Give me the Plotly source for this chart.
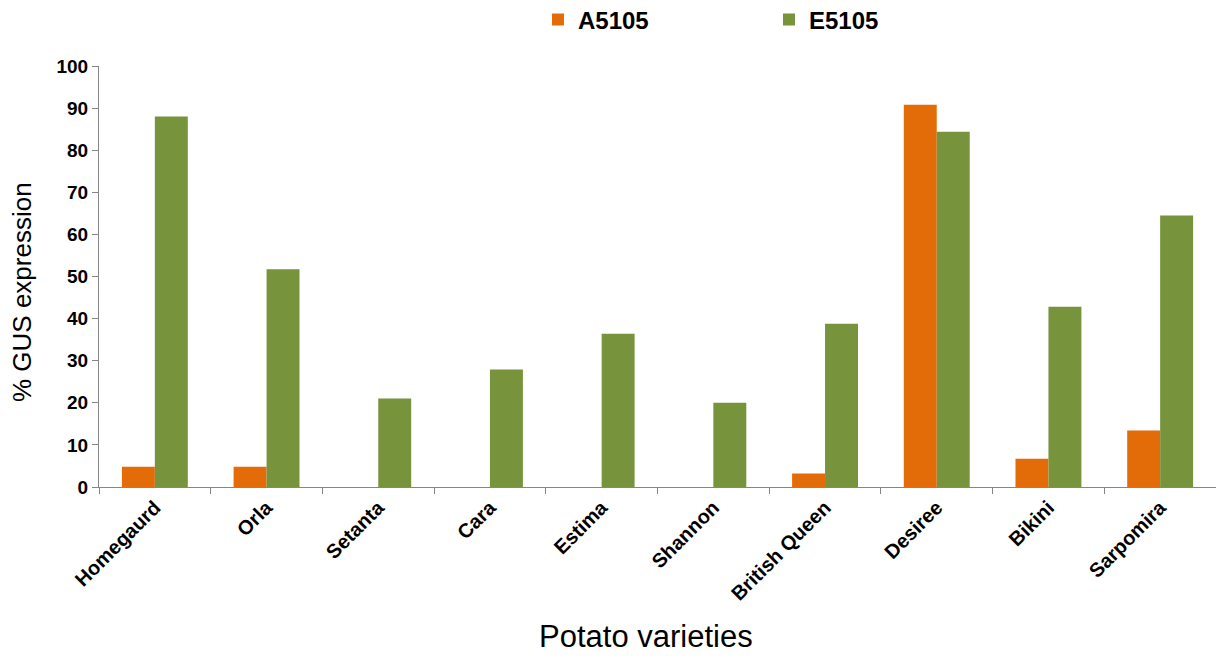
import plotly.graph_objects as go

# Potato varieties and % GUS expression for the two constructs
varieties = ["Homegaurd", "Orla", "Setanta", "Cara", "Estima", "Shannon",
             "British Queen", "Desiree", "Bikini", "Sarpomira"]
a5105 = [4.8, 4.8, 0, 0, 0, 0, 3.2, 90.8, 6.7, 13.4]
e5105 = [88.0, 51.7, 21.0, 27.9, 36.4, 20.0, 38.8, 84.4, 42.8, 64.5]
y_ticks = [0, 10, 20, 30, 40, 50, 60, 70, 80, 90, 100]

ORANGE = "#E36C09"
GREEN = "#77933C"
AXIS = "#868686"
FONT = "Liberation Sans, Arial, sans-serif"

W, H = 1216, 656
ML, MR, MT, MB = 99, 0, 66, 169

fig = go.Figure()
fig.add_trace(go.Bar(name="A5105", x=varieties, y=a5105,
                     marker=dict(color=ORANGE, line=dict(width=0))))
fig.add_trace(go.Bar(name="E5105", x=varieties, y=e5105,
                     marker=dict(color=GREEN, line=dict(width=0))))

# axis titles placed as free annotations (pixel positions converted to paper units)
pw, ph = W - ML - MR, H - MT - MB
def px_x(x): return (x - ML) / pw
def px_y(y): return (H - MB - y) / ph

fig.add_annotation(text="Potato varieties", x=px_x(646), y=px_y(655),
                   xref="paper", yref="paper", showarrow=False,
                   xanchor="center", yanchor="bottom", borderpad=0,
                   font=dict(size=31, family=FONT, color="black"))
fig.add_annotation(text="% GUS expression", x=px_x(22), y=px_y(292),
                   xref="paper", yref="paper", showarrow=False, textangle=-90,
                   xanchor="center", yanchor="middle",
                   font=dict(size=26, family=FONT, color="black"))

fig.update_layout(
    width=W, height=H,
    margin=dict(l=ML, r=MR, t=MT, b=MB, autoexpand=False),
    paper_bgcolor="white", plot_bgcolor="white",
    barmode="group", bargap=0.41, bargroupgap=0,
    font=dict(family=FONT, color="black"),
    showlegend=True,
    legend=dict(orientation="h", x=0.393, xanchor="left",
                yref="container", y=1 - 20 / H, yanchor="middle",
                font=dict(size=24, family=FONT, weight="bold"),
                entrywidth=186, entrywidthmode="pixels",
                traceorder="normal", bgcolor="rgba(0,0,0,0)"),
    xaxis=dict(
        showline=True, linecolor=AXIS, linewidth=1,
        ticks="outside", tickson="boundaries", ticklen=6, tickcolor=AXIS,
        tickangle=-45, showgrid=False,
        tickfont=dict(size=20, family=FONT, weight="bold", color="black"),
    ),
    yaxis=dict(
        range=[0, 100], tickvals=y_ticks,
        showline=True, linecolor=AXIS, linewidth=1,
        ticks="outside", ticklen=6, tickcolor=AXIS, showgrid=False, zeroline=False,
        tickfont=dict(size=19, family=FONT, weight="bold", color="black"),
    ),
)

fig.write_html("out.html")
